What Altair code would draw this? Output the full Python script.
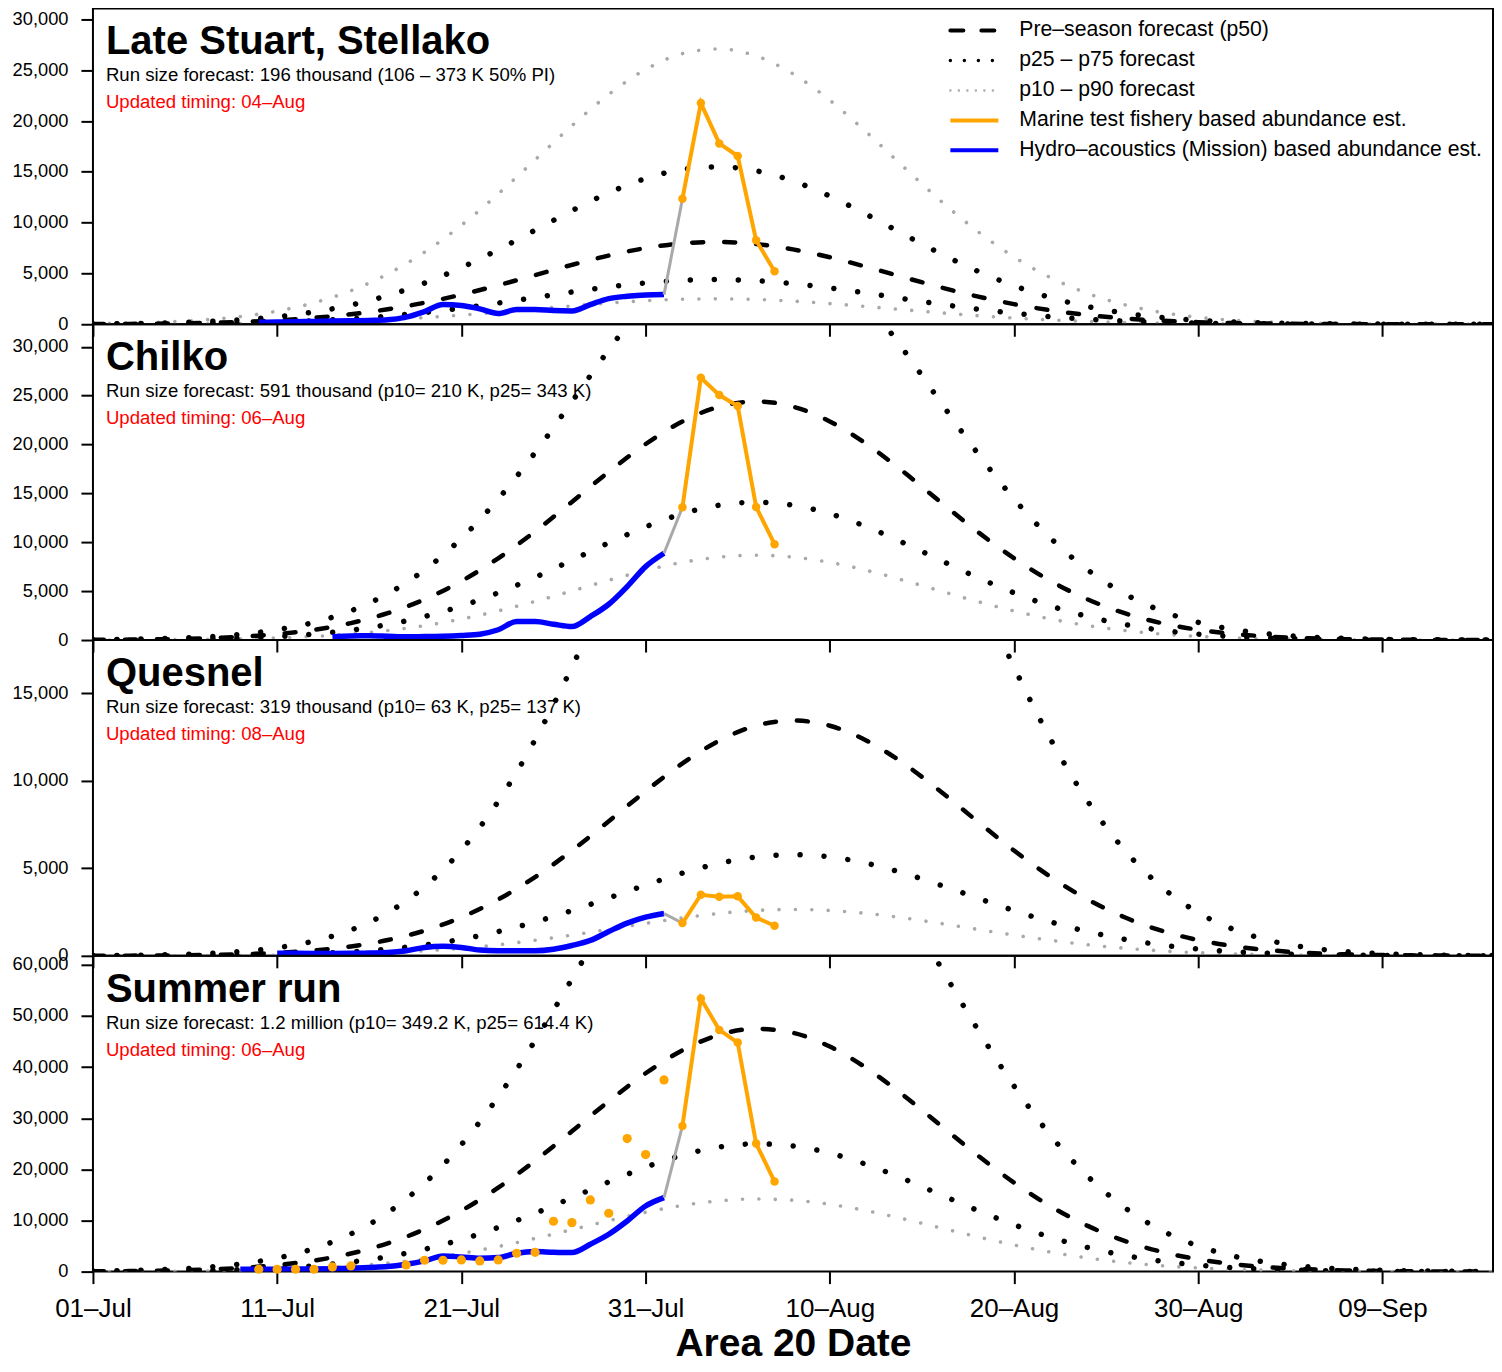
import altair as alt
import pandas as pd

FONT = "Liberation Sans"
ORANGE = "#FFA500"
BLUE = "#0000FF"
GREY = "#A9A9A9"

# ---------------- text ----------------
PANEL_NAMES = ["Late Stuart, Stellako", "Chilko", "Quesnel", "Summer run"]
RUN_SIZE_TEXT = [
    "Run size forecast: 196 thousand (106 – 373 K 50% PI)",
    "Run size forecast: 591 thousand (p10= 210 K, p25= 343 K)",
    "Run size forecast: 319 thousand (p10= 63 K, p25= 137 K)",
    "Run size forecast: 1.2 million (p10= 349.2 K, p25= 614.4 K)",
]
TIMING_TEXT = [
    "Updated timing: 04–Aug",
    "Updated timing: 06–Aug",
    "Updated timing: 08–Aug",
    "Updated timing: 06–Aug",
]
LEGEND_LABELS = [
    "Pre–season forecast (p50)",
    "p25 – p75 forecast",
    "p10 – p90 forecast",
    "Marine test fishery based abundance est.",
    "Hydro–acoustics (Mission) based abundance est.",
]

# ---------------- axes ----------------
Y_MAX = [31080, 32300, 18050, 61760]
Y_TICKS = [
    [0, 5000, 10000, 15000, 20000, 25000, 30000],
    [0, 5000, 10000, 15000, 20000, 25000, 30000],
    [0, 5000, 10000, 15000],
    [0, 10000, 20000, 30000, 40000, 50000, 60000],
]
X_DOMAIN = [0, 76]  # days after 01-Jul
X_TICK_DAYS = [0, 10, 20, 30, 40, 50, 60, 70]
X_TICK_LABELS = ["01–Jul", "11–Jul", "21–Jul", "31–Jul", "10–Aug", "20–Aug", "30–Aug", "09–Sep"]

# ---------------- pre-season forecast curves (every 2nd day from 01-Jul) ----------------
FC_DAYS = [0, 2, 4, 6, 8, 10, 12, 14, 16, 18, 20, 22, 24, 26, 28, 30, 32, 34, 36, 38,
           40, 42, 44, 46, 48, 50, 52, 54, 56, 58, 60, 62, 64, 66, 68, 70, 72, 74, 76]

LS_P10 = [5, 11, 21, 39, 70, 119, 195, 305, 456, 654, 899, 1184, 1493, 1803, 2087, 2314, 2457, 2500, 2436, 2274,
          2034, 1742, 1430, 1124, 847, 611, 422, 280, 177, 108, 63, 35, 19, 10, 5, 2, 1, 0, 0]
LS_P25 = [10, 19, 37, 69, 123, 210, 343, 536, 803, 1151, 1583, 2083, 2627, 3174, 3673, 4072, 4324, 4399, 4287, 4002,
          3579, 3066, 2516, 1978, 1490, 1075, 743, 492, 312, 190, 110, 62, 33, 17, 8, 4, 2, 1, 0]
LS_P50 = [18, 35, 69, 128, 227, 386, 631, 987, 1478, 2120, 2914, 3835, 4836, 5843, 6761, 7496, 7961, 8098, 7892, 7368,
          6589, 5645, 4632, 3642, 2743, 1979, 1367, 906, 574, 349, 203, 113, 60, 31, 15, 7, 3, 1, 0]
LS_P75 = [34, 68, 132, 244, 434, 739, 1207, 1888, 2829, 4056, 5575, 7339, 9254, 11180, 12938, 14344, 15233, 15497, 15102, 14099,
          12609, 10802, 8864, 6969, 5248, 3787, 2616, 1733, 1099, 668, 389, 217, 116, 59, 29, 14, 6, 2, 1]
LS_P90 = [59, 119, 230, 427, 759, 1293, 2111, 3301, 4946, 7092, 9748, 12832, 16179, 19547, 22620, 25078, 26634, 27095, 26404, 24650,
          22046, 18886, 15498, 12184, 9176, 6621, 4574, 3030, 1921, 1168, 680, 379, 202, 104, 51, 24, 11, 4, 2]

CH_P10 = [7, 16, 32, 63, 120, 216, 372, 616, 975, 1477, 2141, 2971, 3947, 5020, 6111, 7122, 7944, 8483, 8670, 8483,
          7944, 7122, 6111, 5020, 3947, 2971, 2141, 1477, 975, 616, 372, 216, 120, 63, 32, 16, 7, 3, 1]
CH_P25 = [12, 25, 52, 103, 195, 351, 605, 1001, 1585, 2401, 3481, 4832, 6418, 8164, 9939, 11582, 12920, 13795, 14100, 13795,
          12920, 11582, 9939, 8164, 6418, 4832, 3481, 2401, 1585, 1001, 605, 351, 195, 103, 52, 25, 12, 5, 2]
CH_P50 = [20, 44, 90, 178, 337, 608, 1047, 1732, 2743, 4155, 6024, 8362, 11107, 14128, 17200, 20042, 22358, 23873, 24400, 23873,
          22358, 20042, 17200, 14128, 11107, 8362, 6024, 4155, 2743, 1732, 1047, 608, 337, 178, 90, 44, 20, 9, 4]
CH_P75 = [35, 76, 156, 307, 581, 1048, 1806, 2989, 4732, 7170, 10394, 14428, 19164, 24376, 29676, 34581, 38576, 41191, 42100, 41191,
          38576, 34581, 29676, 24376, 19164, 14428, 10394, 7170, 4732, 2989, 1806, 1048, 581, 307, 156, 76, 35, 16, 7]

QU_P10 = [1, 2, 4, 9, 17, 33, 61, 106, 177, 284, 434, 634, 887, 1185, 1516, 1853, 2167, 2423, 2591, 2650,
          2591, 2423, 2167, 1853, 1516, 1185, 887, 634, 434, 284, 177, 106, 61, 33, 17, 9, 4, 2, 1]
QU_P25 = [2, 4, 9, 19, 38, 72, 132, 231, 387, 618, 946, 1383, 1934, 2585, 3306, 4043, 4727, 5286, 5652, 5780,
          5652, 5286, 4727, 4043, 3306, 2585, 1934, 1383, 946, 618, 387, 231, 132, 72, 38, 19, 9, 4, 2]
QU_P50 = [4, 10, 21, 44, 88, 168, 308, 538, 900, 1439, 2202, 3219, 4500, 6016, 7693, 9407, 10999, 12300, 13153, 13450,
          13153, 12300, 10999, 9407, 7693, 6016, 4500, 3219, 2202, 1439, 900, 538, 308, 168, 88, 44, 21, 10, 4]
QU_P75 = [12, 26, 58, 121, 242, 462, 845, 1476, 2469, 3948, 6041, 8830, 12347, 16505, 21107, 25808, 30177, 33745, 36085, 36900,
          36085, 33745, 30177, 25808, 21107, 16505, 12347, 8830, 6041, 3948, 2469, 1476, 845, 462, 242, 121, 58, 26, 12]

SU_P10 = [14, 30, 60, 116, 215, 381, 648, 1056, 1653, 2478, 3561, 4906, 6479, 8205, 9961, 11596, 12939, 13842, 14197, 13960,
          13159, 11893, 10305, 8560, 6816, 5204, 3808, 2672, 1798, 1160, 717, 425, 241, 132, 69, 34, 16, 8, 3]
SU_P25 = [25, 53, 106, 204, 378, 670, 1140, 1860, 2910, 4363, 6270, 8638, 11408, 14445, 17538, 20415, 22780, 24370, 24995, 24578,
          23168, 20938, 18143, 15070, 12000, 9163, 6705, 4705, 3165, 2043, 1263, 748, 425, 232, 121, 61, 29, 14, 6]
SU_P50 = [48, 100, 201, 388, 718, 1273, 2166, 3534, 5529, 8289, 11913, 16411, 21674, 27446, 33321, 38789, 43282, 46303, 47491, 46697,
          44018, 39781, 34471, 28633, 22800, 17409, 12740, 8940, 6014, 3881, 2399, 1420, 808, 440, 230, 115, 55, 26, 11]
SU_P75 = [99, 208, 419, 809, 1497, 2653, 4514, 7366, 11524, 17276, 24829, 34205, 45174, 57202, 69449, 80843, 90209, 96505, 98980, 97327,
          91743, 82913, 71844, 59677, 47520, 36284, 26552, 18632, 12533, 8088, 5000, 2960, 1683, 918, 479, 240, 115, 53, 24]

# ---------------- observed abundance ----------------
LS_HYDRO_DAYS = [9, 10, 11, 12, 13, 14, 15, 16, 17, 18, 19, 20, 21, 22, 23, 24, 25, 26, 27, 28, 29, 30, 31]
LS_HYDRO = [190, 210, 240, 280, 310, 340, 380, 440, 700, 1250, 1935, 1836, 1508, 1050, 1443, 1443, 1345, 1312, 1935, 2525,
            2754, 2885, 2918]
CH_HYDRO_DAYS = [13, 14, 15, 16, 17, 18, 19, 20, 21, 22, 23, 24, 25, 26, 27, 28, 29, 30, 31]
CH_HYDRO = [330, 420, 430, 380, 330, 360, 390, 470, 600, 1050, 1890, 1890, 1620, 1380, 2400, 3660, 5470, 7510, 8875]
QU_HYDRO_DAYS = [10, 11, 12, 13, 14, 15, 16, 17, 18, 19, 20, 21, 22, 23, 24, 25, 26, 27, 28, 29, 30, 31]
QU_HYDRO = [150, 140, 135, 135, 140, 160, 190, 290, 480, 550, 480, 330, 290, 285, 290, 380, 590, 880, 1390, 1870, 2210, 2420]
SU_HYDRO_DAYS = [8, 9, 10, 11, 12, 13, 14, 15, 16, 17, 18, 19, 20, 21, 22, 23, 24, 25, 26, 27, 28, 29, 30, 31]
SU_HYDRO = [450, 460, 470, 490, 520, 580, 680, 820, 980, 1430, 2090, 3060, 2870, 2600, 2740, 3580, 3910, 3780, 3720, 5350,
            7300, 9900, 12840, 14470]

MARINE_DAYS = [32, 33, 34, 35, 36, 37]
LS_MARINE = [12360, 21770, 17800, 16560, 8260, 5210]
CH_MARINE = [13580, 26830, 25060, 23930, 13610, 9800]
QU_MARINE = [1870, 3490, 3380, 3400, 2190, 1720]
SU_MARINE = [28490, 53400, 47270, 44790, 25040, 17600]

SU_EARLY_DAYS = [9, 10, 11, 12, 13, 14, 17, 18, 19, 20, 21, 22, 23, 24, 25, 26, 27, 28, 29, 30, 31]
SU_EARLY = [460, 460, 460, 460, 910, 1110, 1300, 2220, 2220, 2280, 2090, 2280, 3590, 3780, 9850, 9580, 14020, 11410,
            26020, 22890, 37490]

# ---------------- assemble tables ----------------
FORECASTS = [
    {"p10": LS_P10, "p25": LS_P25, "p50": LS_P50, "p75": LS_P75, "p90": LS_P90},
    {"p10": CH_P10, "p25": CH_P25, "p50": CH_P50, "p75": CH_P75},
    {"p10": QU_P10, "p25": QU_P25, "p50": QU_P50, "p75": QU_P75},
    {"p10": SU_P10, "p25": SU_P25, "p50": SU_P50, "p75": SU_P75},
]
HYDRO = [(LS_HYDRO_DAYS, LS_HYDRO), (CH_HYDRO_DAYS, CH_HYDRO), (QU_HYDRO_DAYS, QU_HYDRO), (SU_HYDRO_DAYS, SU_HYDRO)]
MARINE = [LS_MARINE, CH_MARINE, QU_MARINE, SU_MARINE]


def forecast_df(i):
    rows = []
    for curve, vals in FORECASTS[i].items():
        for d, v in zip(FC_DAYS, vals):
            rows.append({"day": d, "value": v, "curve": curve})
    return pd.DataFrame(rows)


LABEL_EXPR = "[" + ",".join("'" + s + "'" for s in X_TICK_LABELS) + "][round(datum.value / 10)]"

LEGEND_STYLES = [
    dict(color="black", strokeWidth=4, strokeDash=[13, 18], strokeCap="round"),
    dict(color="black", strokeWidth=3.5, strokeDash=[0.01, 14], strokeCap="round"),
    dict(color=GREY, strokeWidth=2.5, strokeDash=[0.01, 8.5], strokeCap="round"),
    dict(color=ORANGE, strokeWidth=4),
    dict(color=BLUE, strokeWidth=4),
]

PLOT_W = 1401
PLOT_H = 316


def make_panel(i):
    last = i == 3
    x = alt.X(
        "day:Q",
        scale=alt.Scale(domain=X_DOMAIN, nice=False, zero=False),
        axis=alt.Axis(
            values=X_TICK_DAYS, labels=last, labelExpr=LABEL_EXPR,
            title="Area 20 Date" if last else None,
            tickSize=12, labelPadding=12, titlePadding=3, grid=False, domain=False,
            labelFlush=False, labelOverlap=False,
        ),
    )
    y = alt.Y(
        "value:Q",
        scale=alt.Scale(domain=[0, Y_MAX[i]], nice=False, zero=True),
        axis=alt.Axis(
            values=Y_TICKS[i], format=",d", title=None, tickSize=12, labelPadding=13,
            grid=False, domain=False, labelOverlap=False, labelFlush=False,
        ),
    )

    fc = forecast_df(i)
    layers = []
    layers.append(
        alt.Chart(fc).transform_filter(alt.FieldOneOfPredicate(field="curve", oneOf=["p10", "p90"]))
        .mark_line(color=GREY, strokeWidth=3.6, strokeDash=[0.01, 16.4], strokeCap="round",
                   interpolate="monotone", clip=True)
        .encode(x=x, y=y, detail="curve:N")
    )
    layers.append(
        alt.Chart(fc).transform_filter(alt.FieldOneOfPredicate(field="curve", oneOf=["p25", "p75"]))
        .mark_line(color="black", strokeWidth=5.5, strokeDash=[0.01, 24], strokeCap="round",
                   interpolate="monotone", clip=True)
        .encode(x=x, y=y, detail="curve:N")
    )
    layers.append(
        alt.Chart(fc).transform_filter(alt.FieldEqualPredicate(field="curve", equal="p50"))
        .mark_line(color="black", strokeWidth=4.5, strokeDash=[11, 21], strokeCap="round",
                   interpolate="monotone", clip=True)
        .encode(x=x, y=y)
    )

    hd, hv = HYDRO[i]
    hydro = pd.DataFrame({"day": hd, "value": hv})
    layers.append(
        alt.Chart(hydro).mark_line(color=BLUE, strokeWidth=5.5, interpolate="monotone", clip=True)
        .encode(x=x, y=y)
    )
    link = pd.DataFrame({"day": [hd[-1], MARINE_DAYS[0]], "value": [hv[-1], MARINE[i][0]]})
    layers.append(alt.Chart(link).mark_line(color=GREY, strokeWidth=3).encode(x=x, y=y))

    if last:
        early = pd.DataFrame({"day": SU_EARLY_DAYS, "value": SU_EARLY})
        layers.append(
            alt.Chart(early).mark_circle(color=ORANGE, size=85, opacity=1).encode(x=x, y=y)
        )

    marine = pd.DataFrame({"day": MARINE_DAYS, "value": MARINE[i]})
    layers.append(
        alt.Chart(marine).mark_line(
            color=ORANGE, strokeWidth=4,
            point=alt.OverlayMarkDef(color=ORANGE, size=72, filled=True, opacity=1),
        ).encode(x=x, y=y)
    )

    # panel texts
    layers.append(
        alt.Chart(pd.DataFrame({"t": [PANEL_NAMES[i]]}))
        .mark_text(align="left", baseline="alphabetic", font=FONT, fontSize=40, fontWeight="bold", color="black")
        .encode(x=alt.value(13), y=alt.value(46), text="t:N")
    )
    layers.append(
        alt.Chart(pd.DataFrame({"t": [RUN_SIZE_TEXT[i]]}))
        .mark_text(align="left", baseline="alphabetic", font=FONT, fontSize=18.6, color="black")
        .encode(x=alt.value(13), y=alt.value(73), text="t:N")
    )
    layers.append(
        alt.Chart(pd.DataFrame({"t": [TIMING_TEXT[i]]}))
        .mark_text(align="left", baseline="alphabetic", font=FONT, fontSize=18.6, color="#FF0000")
        .encode(x=alt.value(13), y=alt.value(100), text="t:N")
    )

    if i == 0:
        for k, (lab, sty) in enumerate(zip(LEGEND_LABELS, LEGEND_STYLES)):
            ypos = 22 + 30 * k
            layers.append(
                alt.Chart(pd.DataFrame({"t": [lab]})).mark_rule(**sty)
                .encode(x=alt.value(858), x2=alt.value(906), y=alt.value(ypos))
            )
            layers.append(
                alt.Chart(pd.DataFrame({"t": [lab]}))
                .mark_text(align="left", baseline="middle", font=FONT, fontSize=21.2, color="black")
                .encode(x=alt.value(927), y=alt.value(ypos), text="t:N")
            )

    return alt.layer(*layers).properties(width=PLOT_W, height=PLOT_H)


panels = [make_panel(i) for i in range(4)]

chart = (
    alt.vconcat(*panels, spacing=0, bounds="flush")
    .resolve_scale(x="independent", y="independent")
    .resolve_axis(x="independent", y="independent")
    .properties(padding={"left": 3, "top": -1, "right": 0, "bottom": -1})
    .configure_view(stroke="black", strokeWidth=2)
    .configure_axis(labelFont=FONT, titleFont=FONT, labelColor="black", titleColor="black",
                    tickColor="black", tickWidth=2)
    .configure_axisX(labelFontSize=26, titleFontSize=39, titleFontWeight="bold")
    .configure_axisY(labelFontSize=18.3)
)

chart.save("out.html", embed_options={"renderer": "svg", "actions": False})
